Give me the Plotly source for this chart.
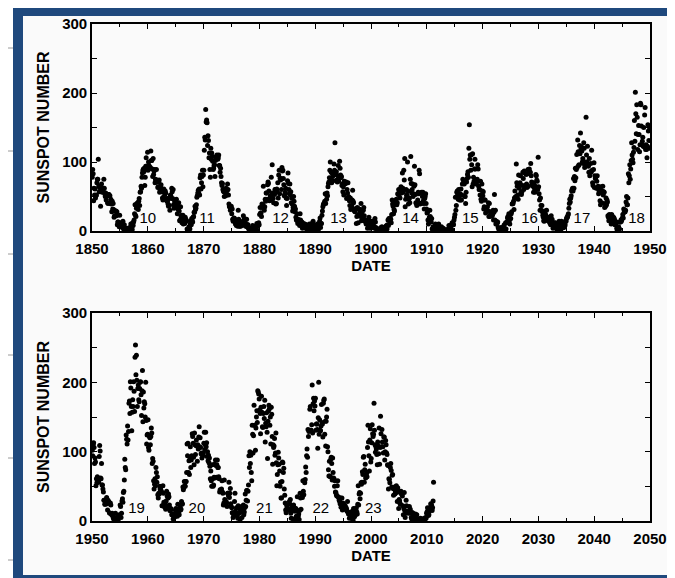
import plotly.graph_objects as go

# The page shows the figure inside the browser's 8 px body margin, so the
# figure is sized to the visible 659x570 area and laid out in window pixels.
WIN_W, WIN_H = 675, 578
OFF = 8
W, H = WIN_W - 2 * OFF, WIN_H - OFF

# Monthly sunspot numbers (one list per decade, 12 values per year)
ssn_1850s = [
    78, 89, 83, 44, 62, 52, 61, 48, 51, 52, 70, 75,
    75, 104, 65, 57, 63, 63, 36, 57, 68, 62, 56, 60,
    61, 75, 62, 54, 50, 55, 45, 52, 51, 41, 40, 53,
    53, 51, 51, 40, 46, 39, 28, 43, 32, 40, 31, 20,
    22, 29, 29, 29, 22, 28, 9, 13, 13, 10, 6, 23,
    12, 8, 6, 6, 8, 5, 14, 5, 2, 9, 0, 1,
    1, 0, 4, 1, 0, 4, 2, 4, 3, 5, 4, 10,
    6, 6, 2, 12, 8, 13, 16, 25, 38, 23, 21, 33,
    40, 34, 41, 31, 43, 47, 37, 56, 57, 65, 62, 78,
    84, 88, 90, 86, 91, 66, 78, 94, 106, 94, 91, 114,
]
ssn_1860s = [
    88, 100, 95, 93, 91, 92, 116, 102, 102, 90, 79, 105,
    82, 87, 89, 70, 75, 73, 89, 74, 71, 63, 64, 71,
    74, 56, 59, 63, 67, 58, 57, 48, 45, 49, 61, 46,
    53, 58, 55, 45, 47, 43, 44, 39, 36, 48, 37, 30,
    52, 51, 47, 62, 57, 47, 60, 38, 33, 44, 41, 44,
    37, 46, 38, 25, 33, 31, 41, 29, 15, 16, 35, 21,
    23, 12, 15, 23, 10, 16, 19, 11, 20, 17, 16, 14,
    3, 1, 2, 1, 6, 5, 3, 10, 15, 9, 18, 15,
    13, 20, 21, 27, 27, 36, 31, 33, 38, 49, 51, 55,
    59, 55, 61, 52, 77, 81, 61, 70, 79, 88, 64, 81,
]
ssn_1870s = [
    88, 117, 136, 132, 176, 158, 161, 157, 124, 138, 131, 106,
    113, 89, 78, 120, 104, 113, 108, 101, 89, 91, 95, 96,
    79, 102, 107, 108, 110, 107, 104, 106, 110, 95, 95, 85,
    91, 79, 70, 66, 69, 60, 58, 57, 50, 57, 61, 51,
    62, 54, 59, 68, 60, 52, 39, 35, 36, 30, 32, 36,
    25, 32, 17, 14, 17, 19, 18, 14, 10, 14, 8, 13,
    14, 7, 30, 17, 8, 7, 11, 7, 9, 13, 8, 11,
    14, 22, 9, 18, 13, 12, 7, 9, 17, 6, 9, 9,
    4, 3, 1, 4, 4, 1, 0, 0, 1, 8, 4, 2,
    1, 1, 2, 7, 4, 7, 11, 1, 8, 8, 12, 9,
]
ssn_1880s = [
    24, 34, 26, 26, 21, 39, 34, 38, 65, 33, 30, 35,
    46, 43, 55, 55, 46, 67, 71, 69, 58, 44, 47, 51,
    45, 78, 53, 96, 55, 47, 41, 54, 53, 60, 60, 39,
    40, 61, 57, 70, 48, 81, 88, 54, 76, 74, 76, 60,
    92, 87, 88, 76, 67, 51, 53, 56, 62, 48, 37, 47,
    73, 84, 69, 60, 54, 68, 52, 57, 41, 48, 39, 29,
    34, 50, 43, 36, 28, 32, 20, 16, 25, 15, 11, 17,
    14, 13, 8, 25, 16, 13, 12, 13, 4, 11, 9, 7,
    10, 10, 6, 4, 9, 4, 3, 8, 2, 1, 5, 10,
    1, 9, 4, 1, 3, 5, 12, 14, 7, 6, 4, 3,
]
ssn_1890s = [
    5, 1, 2, 6, 10, 2, 1, 5, 8, 14, 19, 5,
    11, 11, 23, 29, 35, 38, 40, 40, 43, 54, 40, 53,
    46, 55, 51, 64, 69, 71, 77, 88, 100, 76, 85, 70,
    84, 79, 73, 85, 97, 88, 128, 82, 82, 86, 74, 71,
    80, 95, 72, 79, 101, 91, 81, 77, 79, 66, 68, 57,
    64, 52, 72, 68, 70, 69, 71, 47, 60, 55, 70, 50,
    49, 44, 37, 48, 31, 33, 37, 45, 59, 43, 41, 32,
    29, 28, 32, 32, 11, 21, 34, 23, 12, 32, 32, 26,
    31, 21, 40, 15, 24, 29, 17, 30, 34, 22, 15, 16,
    13, 10, 12, 15, 4, 11, 6, 20, 15, 10, 4, 14,
]
ssn_1900s = [
    9, 5, 14, 12, 14, 8, 6, 4, 18, 13, 5, 4,
    0, 1, 2, 1, 3, 0, 1, 2, 3, 5, 1, 6,
    5, 0, 3, 1, 4, 1, 3, 6, 7, 8, 3, 9,
    16, 8, 18, 16, 14, 19, 17, 12, 24, 45, 39, 36,
    25, 31, 29, 39, 40, 42, 46, 38, 41, 54, 53, 60,
    53, 58, 48, 61, 64, 55, 60, 84, 62, 56, 88, 74,
    105, 35, 46, 60, 51, 52, 100, 58, 39, 46, 48, 41,
    75, 108, 69, 55, 60, 68, 50, 54, 65, 94, 67, 53,
    41, 40, 37, 40, 45, 56, 54, 88, 83, 39, 40, 40,
    56, 55, 50, 56, 44, 40, 32, 47, 50, 54, 40, 32,
]
ssn_1910s = [
    26, 27, 16, 10, 14, 20, 30, 21, 18, 13, 18, 3,
    3, 6, 4, 4, 6, 5, 10, 1, 8, 7, 5, 9,
    1, 10, 2, 4, 3, 1, 0, 6, 1, 3, 3, 4,
    2, 1, 1, 0, 1, 1, 0, 2, 1, 1, 1, 8,
    3, 2, 6, 4, 9, 2, 12, 10, 12, 9, 16, 20,
    24, 49, 30, 37, 56, 58, 53, 46, 60, 48, 45, 54,
    45, 61, 45, 52, 68, 75, 70, 69, 68, 50, 50, 40,
    56, 71, 76, 82, 86, 78, 120, 154, 104, 110, 88, 110,
    96, 64, 112, 68, 78, 72, 90, 104, 90, 68, 73, 71,
    75, 96, 90, 65, 60, 60, 52, 72, 46, 43, 68, 58,
]
ssn_1920s = [
    51, 57, 32, 35, 45, 45, 26, 34, 30, 30, 35, 29,
    41, 21, 40, 21, 28, 25, 22, 24, 22, 24, 30, 16,
    27, 53, 16, 30, 10, 14, 10, 12, 13, 5, 4, 1,
    1, 3, 2, 5, 4, 3, 1, 2, 4, 7, 9, 3,
    1, 12, 3, 12, 13, 19, 21, 21, 25, 15, 10, 18,
    18, 25, 28, 39, 40, 40, 43, 31, 48, 58, 49, 50,
    97, 70, 65, 52, 46, 81, 62, 69, 70, 80, 56, 53,
    57, 66, 85, 76, 60, 87, 84, 66, 66, 82, 68, 63,
    83, 89, 65, 84, 90, 86, 85, 98, 80, 71, 68, 69,
    65, 56, 70, 62, 56, 65, 82, 80, 74, 72, 60, 107,
]
ssn_1930s = [
    64, 54, 45, 30, 48, 37, 30, 37, 28, 23, 20, 15,
    14, 22, 29, 24, 21, 30, 20, 17, 15, 20, 19, 14,
    12, 11, 9, 22, 9, 17, 10, 4, 9, 12, 6, 10,
    12, 11, 5, 3, 2, 3, 5, 9, 14, 4, 1, 1,
    9, 14, 4, 12, 10, 5, 5, 6, 7, 9, 15, 14,
    18, 20, 20, 23, 25, 33, 40, 46, 42, 48, 51, 58,
    60, 62, 58, 76, 62, 79, 73, 91, 77, 89, 111, 92,
    132, 115, 95, 96, 124, 112, 142, 119, 122, 116, 100, 105,
    98, 128, 120, 92, 98, 100, 165, 110, 100, 123, 95, 94,
    85, 105, 80, 86, 98, 85, 117, 88, 70, 66, 89, 99,
]
ssn_1940s = [
    63, 80, 76, 78, 62, 72, 80, 62, 65, 54, 58, 58,
    44, 38, 64, 56, 41, 58, 65, 52, 57, 56, 34, 40,
    36, 48, 38, 45, 42, 22, 20, 15, 24, 22, 16, 17,
    10, 24, 22, 16, 15, 20, 19, 17, 9, 14, 10, 13,
    4, 1, 2, 5, 6, 3, 3, 13, 13, 16, 14, 17,
    19, 24, 19, 32, 27, 28, 28, 30, 42, 50, 38, 38,
    48, 83, 70, 80, 96, 75, 90, 102, 128, 110, 104, 99,
    114, 121, 160, 130, 201, 170, 141, 183, 165, 118, 140, 153,
    140, 115, 125, 185, 183, 152, 125, 130, 136, 123, 150, 122,
    168, 179, 118, 125, 118, 106, 123, 154, 145, 131, 120, 149,
]
ssn_1950s = [
    102, 94, 110, 113, 106, 83, 91, 85, 51, 61, 55, 64,
    60, 60, 56, 93, 109, 101, 62, 61, 83, 52, 52, 46,
    42, 30, 30, 24, 24, 30, 31, 34, 25, 16, 30, 28,
    27, 12, 11, 26, 23, 10, 9, 11, 8, 5, 3, 5,
    0, 1, 11, 2, 1, 0, 5, 8, 2, 7, 9, 8,
    23, 21, 5, 11, 29, 32, 27, 41, 43, 59, 89, 77,
    74, 124, 118, 111, 137, 117, 129, 170, 173, 155, 201, 192,
    165, 130, 157, 175, 165, 201, 187, 158, 236, 254, 211, 239,
    203, 165, 191, 196, 175, 172, 191, 200, 201, 182, 152, 188,
    217, 143, 186, 163, 172, 169, 150, 200, 145, 111, 124, 125,
]
ssn_1960s = [
    146, 106, 102, 122, 120, 110, 122, 134, 127, 83, 90, 86,
    58, 46, 53, 61, 51, 77, 70, 56, 64, 38, 33, 40,
    39, 50, 46, 46, 44, 42, 22, 22, 51, 40, 27, 23,
    20, 24, 17, 29, 43, 36, 20, 33, 39, 35, 23, 15,
    15, 18, 17, 9, 10, 9, 3, 9, 5, 6, 7, 15,
    18, 14, 12, 7, 24, 16, 12, 9, 17, 20, 16, 17,
    28, 24, 25, 49, 45, 48, 57, 51, 50, 57, 57, 70,
    111, 94, 112, 70, 87, 67, 92, 107, 77, 88, 94, 126,
    122, 112, 92, 81, 127, 110, 96, 109, 117, 108, 86, 110,
    104, 121, 136, 107, 120, 106, 97, 98, 91, 96, 94, 98,
]
ssn_1970s = [
    112, 128, 103, 110, 128, 107, 113, 93, 100, 87, 95, 84,
    91, 79, 61, 72, 58, 50, 81, 61, 50, 52, 63, 82,
    62, 88, 80, 63, 81, 88, 77, 77, 64, 61, 42, 45,
    43, 43, 46, 58, 42, 40, 23, 26, 59, 31, 24, 23,
    28, 26, 21, 40, 40, 36, 56, 34, 40, 47, 25, 21,
    19, 12, 12, 5, 9, 11, 28, 40, 14, 9, 19, 8,
    8, 4, 22, 19, 12, 12, 2, 16, 14, 21, 5, 15,
    16, 23, 9, 13, 19, 39, 21, 30, 44, 44, 29, 43,
    52, 94, 77, 100, 83, 95, 70, 58, 138, 125, 98, 123,
    167, 138, 138, 102, 134, 150, 159, 142, 188, 186, 183, 176,
]
ssn_1980s = [
    160, 155, 126, 164, 180, 157, 136, 135, 155, 165, 148, 174,
    114, 141, 136, 156, 128, 90, 144, 159, 167, 162, 138, 150,
    111, 164, 154, 122, 82, 110, 106, 108, 119, 95, 98, 127,
    84, 51, 67, 81, 99, 91, 82, 72, 50, 56, 33, 33,
    57, 85, 84, 70, 76, 46, 37, 26, 16, 12, 23, 19,
    17, 16, 17, 16, 28, 24, 31, 11, 4, 19, 16, 17,
    3, 23, 15, 19, 14, 1, 18, 7, 4, 35, 15, 7,
    10, 2, 15, 40, 33, 17, 34, 39, 34, 58, 43, 38,
    58, 55, 60, 78, 70, 94, 104, 92, 132, 122, 129, 131,
    161, 165, 131, 131, 139, 196, 127, 169, 177, 159, 173, 166,
]
ssn_1990s = [
    177, 131, 140, 140, 132, 105, 149, 200, 125, 146, 131, 130,
    137, 168, 142, 140, 121, 170, 174, 176, 125, 144, 108, 144,
    150, 161, 107, 100, 74, 65, 86, 65, 64, 89, 92, 83,
    59, 91, 70, 62, 61, 50, 58, 42, 41, 38, 36, 51,
    58, 35, 34, 30, 29, 25, 33, 20, 25, 33, 16, 26,
    25, 24, 22, 17, 22, 19, 19, 17, 14, 28, 13, 10,
    12, 4, 9, 5, 6, 12, 8, 14, 2, 1, 18, 13,
    6, 8, 9, 16, 19, 13, 10, 24, 51, 23, 39, 41,
    32, 40, 55, 53, 56, 71, 67, 92, 93, 56, 74, 82,
    62, 66, 69, 64, 106, 138, 114, 94, 72, 117, 133, 85,
]
ssn_2000s = [
    90, 113, 139, 126, 122, 125, 170, 131, 110, 99, 107, 104,
    96, 81, 114, 108, 97, 134, 82, 106, 151, 126, 107, 132,
    114, 107, 98, 121, 121, 88, 100, 116, 110, 98, 96, 81,
    80, 46, 61, 60, 55, 77, 83, 73, 49, 66, 67, 47,
    37, 46, 49, 39, 42, 43, 51, 41, 28, 48, 44, 18,
    31, 29, 25, 24, 43, 39, 40, 36, 22, 9, 18, 41,
    15, 5, 11, 30, 22, 14, 12, 13, 14, 11, 21, 14,
    17, 11, 5, 3, 12, 12, 10, 6, 2, 1, 2, 10,
    3, 2, 9, 3, 3, 3, 1, 1, 1, 3, 4, 1,
    2, 1, 1, 1, 3, 3, 4, 0, 4, 5, 4, 11,
]
ssn_2010s = [
    13, 19, 15, 8, 9, 14, 16, 20, 25, 24, 22, 15,
    19, 29, 56,
]

top_blocks = [ssn_1850s, ssn_1860s, ssn_1870s, ssn_1880s, ssn_1890s,
              ssn_1900s, ssn_1910s, ssn_1920s, ssn_1930s, ssn_1940s]
bottom_blocks = [ssn_1950s, ssn_1960s, ssn_1970s, ssn_1980s, ssn_1990s,
                 ssn_2000s, ssn_2010s]

top_start, bottom_start = 1850, 1950

# Cycle numbers and where they sit on the time axis
cycle_top = ["10", "11", "12", "13", "14", "15", "16", "17", "18"]
cycle_top_x = [1860.0, 1870.6, 1883.8, 1894.2, 1907.1, 1917.8, 1928.4, 1937.8, 1947.6]
cycle_bot = ["19", "20", "21", "22", "23"]
cycle_bot_x = [1958.0, 1968.8, 1980.9, 1991.0, 2000.4]
cycle_label_y = 16.5

x_tick_top = [1850, 1860, 1870, 1880, 1890, 1900, 1910, 1920, 1930, 1940, 1950]
x_tick_bot = [1950, 1960, 1970, 1980, 1990, 2000, 2010, 2020, 2030, 2040, 2050]
y_ticks = [0, 100, 200, 300]


def monthly(start, blocks):
    vals = [v for b in blocks for v in b]
    xs = [start + (i + 0.5) / 12.0 for i in range(len(vals))]
    return xs, vals


xt, yt = monthly(top_start, top_blocks)
xb, yb = monthly(bottom_start, bottom_blocks)

FONT = "Liberation Sans, Arial, Helvetica, sans-serif"
BLUE = "#1f497d"

fig = go.Figure()

# cycle numbers (drawn first so dots lie over them)
fig.add_trace(go.Scatter(x=cycle_top_x, y=[cycle_label_y] * len(cycle_top), text=cycle_top,
                         mode="text", textfont=dict(family=FONT, size=15, color="black"),
                         xaxis="x", yaxis="y", hoverinfo="skip", showlegend=False))
fig.add_trace(go.Scatter(x=cycle_bot_x, y=[cycle_label_y] * len(cycle_bot), text=cycle_bot,
                         mode="text", textfont=dict(family=FONT, size=15, color="black"),
                         xaxis="x2", yaxis="y2", hoverinfo="skip", showlegend=False))

mk = dict(size=5, color="black", line=dict(width=0))
fig.add_trace(go.Scatter(x=xt, y=yt, mode="markers", marker=mk, xaxis="x", yaxis="y", showlegend=False))
fig.add_trace(go.Scatter(x=xb, y=yb, mode="markers", marker=mk, xaxis="x2", yaxis="y2", showlegend=False))


# window pixel -> paper fraction
def px(x):
    return (x - OFF) / W


def py(y):
    return 1 - (y - OFF) / H


x_dom = [px(92), px(650)]
top_dom = [py(231), py(24)]
bot_dom = [py(521), py(313)]

tickfont = dict(family=FONT, size=15, color="black", weight="bold")


def xaxis(rng, ticks, anchor):
    return dict(domain=x_dom, range=rng, anchor=anchor, automargin=False,
                tickmode="array", tickvals=ticks, ticklabelstandoff=3,
                ticktext=[str(t) for t in ticks], ticks="inside", ticklen=5, tickwidth=1.3,
                tickcolor="black", minor=dict(dtick=5, tick0=1850, ticks="inside", ticklen=3,
                                              tickwidth=1.2, tickcolor="black"),
                showline=True, linecolor="black", linewidth=1.6, mirror="allticks",
                showgrid=False, zeroline=False, tickfont=tickfont,
                title=dict(text="DATE", font=tickfont, standoff=3))


def yaxis(anchor, dom):
    return dict(domain=dom, range=[0, 300], anchor=anchor, automargin=False,
                tickmode="array", tickvals=y_ticks,
                ticktext=[str(t) for t in y_ticks], ticks="inside", ticklen=5, tickwidth=1.3,
                tickcolor="black", minor=dict(dtick=50, tick0=0, ticks="inside", ticklen=5,
                                              tickwidth=1.2, tickcolor="black"),
                showline=True, linecolor="black", linewidth=1.6, mirror="allticks",
                showgrid=False, zeroline=False, tickfont=tickfont,
                title=dict(text="SUNSPOT NUMBER", font=dict(family=FONT, size=16, color="black",
                                                            weight="bold"), standoff=9))


shapes = []


def rect(x0, y0, x1, y1, color, layer="below"):
    shapes.append(dict(type="rect", xref="paper", yref="paper", x0=px(x0), x1=px(x1),
                       y0=py(y1), y1=py(y0), fillcolor=color, line=dict(width=0), layer=layer))


def hline(x0, x1, y, color, width=1):
    shapes.append(dict(type="line", xref="paper", yref="paper", x0=px(x0), x1=px(x1),
                       y0=py(y), y1=py(y), line=dict(color=color, width=width), layer="below"))


# slide frame around the chart (window pixel coordinates)
rect(23, 16, 675, 575, "#fafafa")
rect(215, 0, 675, 7, "#dbe5f8")
rect(206, 0, 215, 7, BLUE)
rect(13, 6, 675, 16, BLUE)
rect(13, 6, 23, 578, BLUE)
rect(23, 575, 675, 578, BLUE)
for yy in [48, 151, 254, 355, 458, 560]:
    hline(0, 13, yy, "#9a9a9a", 1)

fig.update_layout(
    width=W, height=H,
    margin=dict(l=0, r=0, t=0, b=0, autoexpand=False),
    paper_bgcolor="white",
    plot_bgcolor="rgba(0,0,0,0)",
    xaxis=xaxis([1850, 1950], x_tick_top, "y"),
    yaxis=yaxis("x", top_dom),
    xaxis2=xaxis([1950, 2050], x_tick_bot, "y2"),
    yaxis2=yaxis("x2", bot_dom),
    shapes=shapes,
    showlegend=False,
)

fig.write_html("out.html")
